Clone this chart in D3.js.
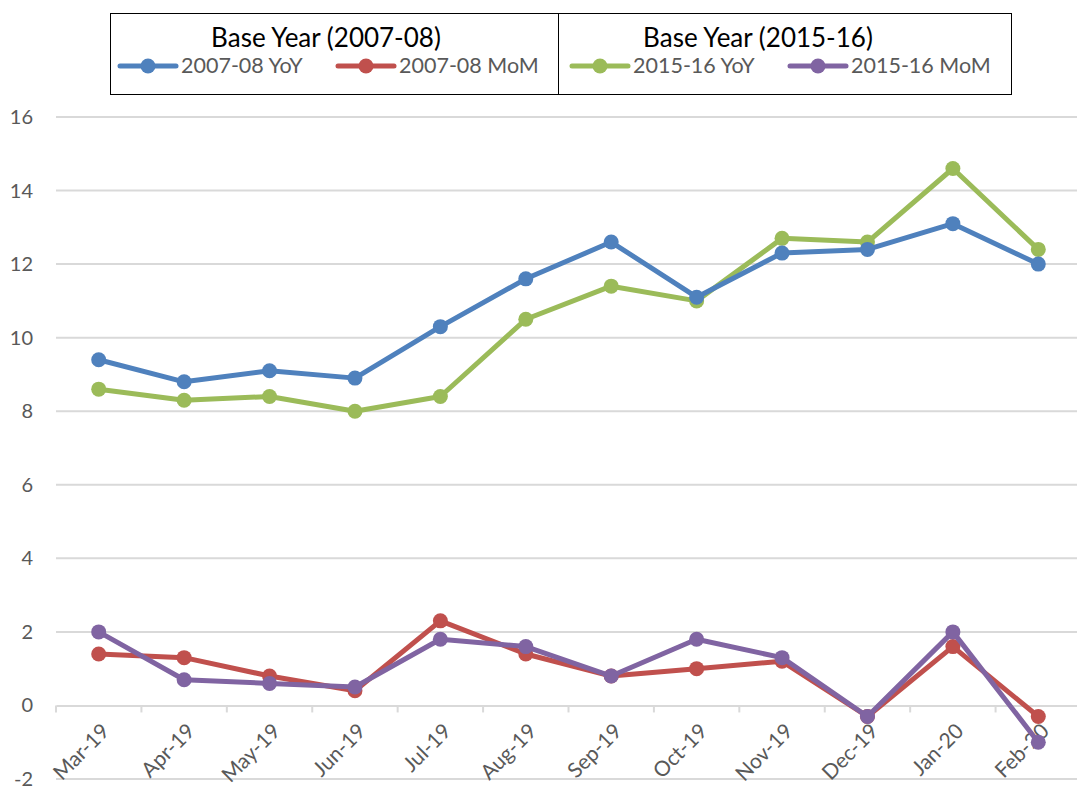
<!DOCTYPE html>
<head>
<meta charset="utf-8">
<title>Base Year YoY / MoM</title>
<script type="text/javascript" src="https://d3js.org/d3.v7.min.js"></script>
<style>
  body { margin: 0; background: #fff; }
  text { font-family: Lato, "Open Sans", sans-serif; fill: #595959; }
  .grid line { stroke: #d9d9d9; stroke-width: 2; }
  .axis path, .axis line { stroke: #d9d9d9; stroke-width: 2; }
</style>
</head>
<body>
<div id="container"></div>
<script>

//--------------------------- DATA ---------------------------//
const months = ["Mar-19", "Apr-19", "May-19", "Jun-19", "Jul-19", "Aug-19",
                "Sep-19", "Oct-19", "Nov-19", "Dec-19", "Jan-20", "Feb-20"];
const yoy0708 = [9.4, 8.8, 9.1, 8.9, 10.3, 11.6, 12.6, 11.1, 12.3, 12.4, 13.1, 12.0];
const mom0708 = [1.4, 1.3, 0.8, 0.4, 2.3, 1.4, 0.8, 1.0, 1.2, -0.3, 1.6, -0.3];
const yoy1516 = [8.6, 8.3, 8.4, 8.0, 8.4, 10.5, 11.4, 11.0, 12.7, 12.6, 14.6, 12.4];
const mom1516 = [2.0, 0.7, 0.6, 0.5, 1.8, 1.6, 0.8, 1.8, 1.3, -0.3, 2.0, -1.0];
const yTicks = [-2, 0, 2, 4, 6, 8, 10, 12, 14, 16];
const groupTitles = ["Base Year (2007-08)", "Base Year (2015-16)"];

const series = [
  { name: "2015-16 YoY", values: yoy1516, color: "#9bbb59", slot: 2 },
  { name: "2007-08 YoY", values: yoy0708, color: "#4f81bd", slot: 0 },
  { name: "2007-08 MoM", values: mom0708, color: "#c0504d", slot: 1 },
  { name: "2015-16 MoM", values: mom1516, color: "#8064a2", slot: 3 }
];

//--------------------------- SVG ----------------------------//
const width = 1077;
const height = 787;
const plot = { left: 56, right: 1081, top: 117, bottom: 779 };

const svg = d3.select("div#container").append("svg")
    .attr("width", width)
    .attr("height", height);

//-------------------------- SCALES --------------------------//
const x = d3.scaleBand().domain(months).range([plot.left, plot.right]);
const y = d3.scaleLinear().domain([-2, 16]).range([plot.bottom, plot.top]);

//--------------------------- GRID ---------------------------//
svg.append("g")
    .attr("class", "grid")
    .selectAll("line")
    .data(yTicks.filter(d => d !== 0))
    .enter().append("line")
    .attr("x1", plot.left).attr("x2", plot.right)
    .attr("y1", d => y(d)).attr("y2", d => y(d));

svg.append("g")
    .selectAll("text")
    .data(yTicks)
    .enter().append("text")
    .attr("x", 33)
    .attr("y", d => y(d) + 7)
    .attr("text-anchor", "end")
    .style("font-size", "20px")
    .text(d => d);

//-------------------------- X AXIS --------------------------//
const xAxis = d3.axisBottom(x).tickSize(0).tickSizeOuter(0);
const gx = svg.append("g")
    .attr("class", "axis")
    .attr("transform", "translate(0," + y(0) + ")")
    .call(xAxis);

// tick marks sit between categories
gx.selectAll(".sep")
    .data(months)
    .enter().append("line")
    .attr("class", "sep")
    .attr("x1", d => x(d)).attr("x2", d => x(d))
    .attr("y1", 0).attr("y2", 7);

gx.selectAll(".tick text")
    .style("font-size", "21px")
    .style("fill", "#595959")
    .attr("text-anchor", "end")
    .attr("dy", null)
    .attr("y", 0)
    .attr("transform", "translate(12,27) rotate(-45)");

//-------------------------- LINES ---------------------------//
const cx = i => x(months[i]) + x.bandwidth() / 2;
const line = d3.line()
    .x((d, i) => cx(i))
    .y(d => y(d));

const lines = svg.selectAll(".series")
    .data(series)
    .enter().append("g")
    .attr("class", "series");

lines.append("path")
    .attr("d", d => line(d.values))
    .attr("fill", "none")
    .attr("stroke", d => d.color)
    .attr("stroke-width", 5)
    .attr("stroke-linejoin", "round");

lines.selectAll("circle")
    .data(d => d.values.map(v => ({ v: v, color: d.color })))
    .enter().append("circle")
    .attr("cx", (d, i) => cx(i))
    .attr("cy", d => y(d.v))
    .attr("r", 7.5)
    .attr("fill", d => d.color);

//-------------------------- LEGEND --------------------------//
const legend = svg.append("g");
legend.append("rect")
    .attr("x", 110.5).attr("y", 13.5)
    .attr("width", 901).attr("height", 81)
    .attr("fill", "#fff")
    .attr("stroke", "#000")
    .attr("stroke-width", 1);
legend.append("line")
    .attr("x1", 558.5).attr("x2", 558.5)
    .attr("y1", 13.5).attr("y2", 94.5)
    .attr("stroke", "#000");

legend.selectAll(".title")
    .data(groupTitles)
    .enter().append("text")
    .attr("class", "title")
    .attr("x", (d, i) => i === 0 ? 326 : 758)
    .attr("y", 47)
    .attr("text-anchor", "middle")
    .style("font-size", "26px")
    .style("fill", "#000")
    .text(d => d);

const slotX = [120, 338, 572, 790];
const items = legend.selectAll(".item")
    .data(series)
    .enter().append("g")
    .attr("transform", d => "translate(" + slotX[d.slot] + ",66)");

items.append("line")
    .attr("x1", 0).attr("x2", 56)
    .attr("stroke", d => d.color)
    .attr("stroke-width", 5)
    .attr("stroke-linecap", "round");
items.append("circle")
    .attr("cx", 28).attr("r", 7.5)
    .attr("fill", d => d.color);
items.append("text")
    .attr("x", 61).attr("y", 7)
    .style("font-size", "21.5px")
    .text(d => d.name);

</script>
</body>
